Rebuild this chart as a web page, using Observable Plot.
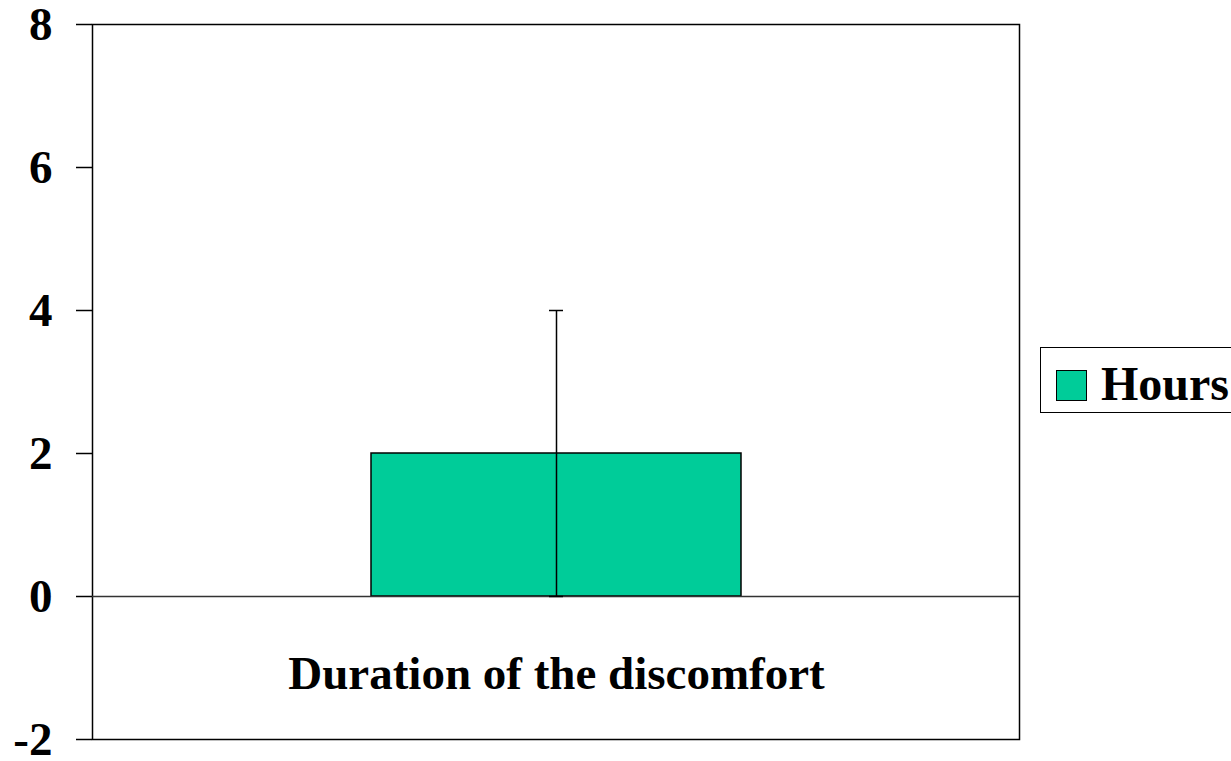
<!DOCTYPE html>
<html>
<head>
<meta charset="utf-8">
<script src="https://cdn.jsdelivr.net/npm/d3@7"></script>
<script src="https://cdn.jsdelivr.net/npm/@observablehq/plot@0.6"></script>
<style>
  html, body { margin: 0; padding: 0; background: #fff; }
  #wrap { position: relative; width: 1231px; height: 761px; overflow: hidden; font-family: "Liberation Serif", "Times New Roman", serif; font-weight: bold; }
  #legend { position: absolute; left: 1040px; top: 347px; width: 210px; height: 66px; border: 1.5px solid #000; box-sizing: border-box; background: #fff; }
  #legend .sw { position: absolute; left: 15px; top: 22px; width: 31px; height: 31px; box-sizing: border-box; border: 1.5px solid #000; }
  #legend .lb { position: absolute; left: 60px; top: 12px; font-size: 48px; line-height: 48px; color: #000; }
</style>
</head>
<body>
<div id="wrap"><div id="chart"></div><div id="legend"><div class="sw"></div><div class="lb"></div></div></div>
<script>
// Data
const categories = ["Duration of the discomfort"];
const means = [2];
const sds = [2];
const seriesName = "Hours";
const seriesColor = "#00cc99";
const yTicks = [-2, 0, 2, 4, 6, 8];

const rows = categories.map((c, i) => ({cat: c, mean: means[i], lo: means[i] - sds[i], hi: means[i] + sds[i]}));

const chart = Plot.plot({
  width: 1231,
  height: 761,
  marginLeft: 92,
  marginRight: 212,
  marginTop: 24,
  marginBottom: 22,
  style: {fontFamily: "'Liberation Serif', 'Times New Roman', serif", fontWeight: "bold", fontSize: "47px", color: "#000", background: "#fff", overflow: "visible"},
  x: {type: "band", domain: categories, paddingInner: 0, paddingOuter: 0.75, axis: null},
  y: {domain: [-2, 8], axis: null},
  marks: [
    Plot.frame({stroke: "#000", strokeWidth: 1.5}),
    Plot.barY(rows, {x: "cat", y1: 0, y2: "mean", fill: seriesColor, stroke: "#000", strokeWidth: 1.5}),
    Plot.ruleY([0], {stroke: "#333", strokeWidth: 1.5}),
    Plot.ruleX(rows, {x: "cat", y1: "lo", y2: "hi", stroke: "#000", strokeWidth: 1.5}),
    Plot.tickY(rows, {x: "cat", y: "hi", stroke: "#000", strokeWidth: 1.5, insetLeft: 178, insetRight: 178}),
    Plot.tickY(rows, {x: "cat", y: "lo", stroke: "#000", strokeWidth: 1.5, insetLeft: 178, insetRight: 178}),
    Plot.axisY({ticks: yTicks, tickSize: 16, tickPadding: 24, tickFormat: d => String(d), fontSize: 47, fontWeight: "bold", stroke: "#000", strokeWidth: 1.5}),
    Plot.text(rows, {x: "cat", frameAnchor: "bottom", text: "cat", dy: -66, lineAnchor: "middle", fontSize: 47, fontWeight: "bold", fill: "#000"})
  ]
});
document.getElementById("chart").appendChild(chart);
document.querySelector("#legend .sw").style.background = seriesColor;
document.querySelector("#legend .lb").textContent = seriesName;
</script>
</body>
</html>
